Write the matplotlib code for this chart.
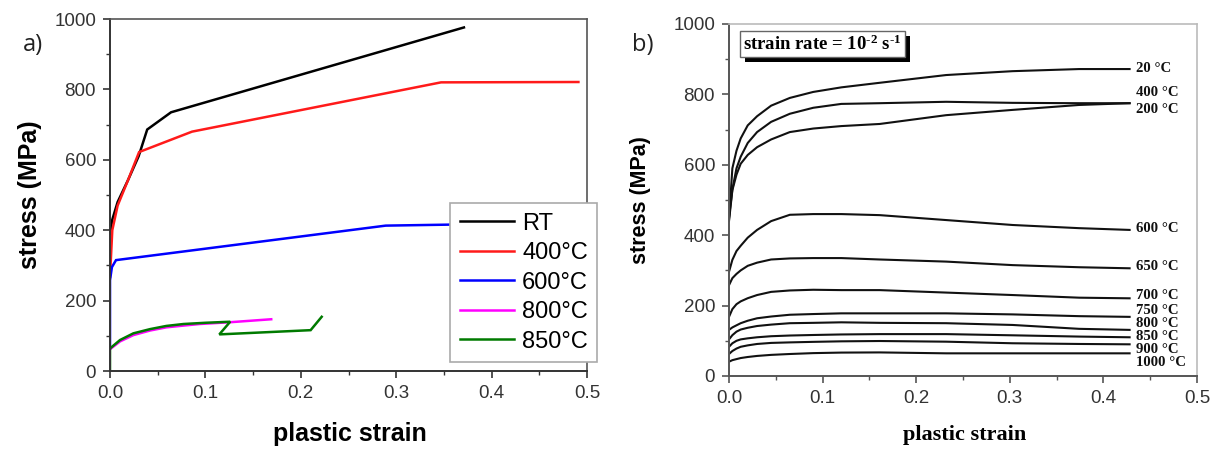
import matplotlib
matplotlib.use("Agg")
import matplotlib.pyplot as plt
from matplotlib import patheffects
from matplotlib.ticker import MultipleLocator

plt.rcParams['font.family'] = ['Liberation Sans', 'DejaVu Sans']
plt.rcParams['mathtext.fontset'] = 'custom'
plt.rcParams['mathtext.rm'] = 'Liberation Serif:bold'
plt.rcParams['mathtext.it'] = 'Liberation Serif:bold'
plt.rcParams['mathtext.bf'] = 'Liberation Serif:bold'

# ---------------- panel a) : flow curves used in the model ----------------
a_labels = ["RT", "400°C", "600°C", "800°C", "850°C"]
a_colors = ["#000000", "#ff1a1a", "#0000ff", "#ff00ff", "#007a00"]

rt_strain = [0.0, 0.0024, 0.008, 0.019, 0.03, 0.039, 0.064, 0.371]
rt_stress = [390, 430, 480, 543, 610, 686, 735, 976]

t400_strain = [0.0, 0.0024, 0.008, 0.019, 0.0305, 0.086, 0.347, 0.491]
t400_stress = [268, 400, 470, 543, 622, 680, 820, 821]

t600_strain = [0.0, 0.0, 0.002, 0.0063, 0.289, 0.36, 0.42]
t600_stress = [64, 258, 295, 315, 413, 416, 416]

t800_strain = [0.0, 0.0105, 0.0245, 0.042, 0.059, 0.077, 0.094, 0.126, 0.169]
t800_stress = [62, 84, 102, 115, 124, 129, 133.5, 138.6, 147]

t850_strain = [0.0, 0.0, 0.0105, 0.0245, 0.042, 0.059, 0.077, 0.1, 0.126,
               0.1146, 0.2103, 0.2219]
t850_stress = [0, 64, 88, 107, 119, 128, 133.5, 137, 140, 104, 116, 154]

a_strains = [rt_strain, t400_strain, t600_strain, t800_strain, t850_strain]
a_stresses = [rt_stress, t400_stress, t600_stress, t800_stress, t850_stress]

# ---------------- panel b) : measured curves at 10^-2 s^-1 ----------------
b_labels = ["20 °C", "400 °C", "200 °C", "600 °C", "650 °C", "700 °C",
            "750 °C", "800 °C", "850 °C", "900 °C", "1000 °C"]
b_label_y = [875, 804, 758, 420, 311, 230, 186, 148, 112, 75, 37]

b_strain = [0.0, 0.0036, 0.008, 0.0125, 0.02, 0.03, 0.045, 0.065, 0.09,
            0.12, 0.161, 0.232, 0.303, 0.374, 0.428]
b_stress = {
    "20 °C":   [445, 590, 640, 675, 712, 738, 768, 790, 807, 820, 833, 855, 866, 872, 872],
    "400 °C":  [450, 530, 590, 623, 662, 693, 722, 745, 762, 773, 775, 779, 776, 775, 775],
    "200 °C":  [440, 528, 572, 603, 628, 650, 672, 693, 703, 710, 716, 741, 756, 770, 775],
    "600 °C":  [296, 330, 355, 370, 393, 415, 440, 458, 460, 460, 457, 443, 429, 420, 415],
    "650 °C":  [258, 278, 290, 300, 313, 322, 331, 334, 335, 335, 331, 325, 315, 309, 306],
    "700 °C":  [168, 190, 204, 212, 221, 230, 239, 243, 245, 244, 244, 237, 230, 222.5, 220.7],
    "750 °C":  [131, 138, 144, 150, 157, 164, 169, 174, 176, 178, 178, 178, 175, 170, 168],
    "800 °C":  [104, 116, 126, 132, 137, 142, 146, 150, 151, 152.5, 151, 150, 145, 134, 131],
    "850 °C":  [83, 93, 100, 104, 107, 110, 113, 115, 116.5, 118, 119, 119, 115.6, 112, 110],
    "900 °C":  [62.5, 71, 78, 83, 87, 91, 94, 95.5, 97, 98.5, 99.4, 97.5, 93, 91, 90],
    "1000 °C": [40.6, 45, 48, 51, 54, 57, 60, 62.5, 65, 66.5, 67, 64.4, 64.4, 64.4, 64.4],
}

x_ticks = [0.0, 0.1, 0.2, 0.3, 0.4, 0.5]
x_ticklabels = ["0.0", "0.1", "0.2", "0.3", "0.4", "0.5"]
y_ticks = [0, 200, 400, 600, 800, 1000]

fig = plt.figure(figsize=(12.15, 4.5), dpi=100)
ax1 = fig.add_axes([110 / 1215, 1 - 371 / 450, 477 / 1215, 352 / 450])
ax2 = fig.add_axes([729 / 1215, 1 - 376 / 450, 468 / 1215, 352 / 450])

tick_color = "#333333"


def style_axes(ax, spine_dark, spine_light):
    ax.set_xlim(0, 0.5)
    ax.set_ylim(0, 1000)
    ax.set_xticks(x_ticks)
    ax.set_xticklabels(x_ticklabels)
    ax.set_yticks(y_ticks)
    ax.xaxis.set_minor_locator(MultipleLocator(0.05))
    ax.yaxis.set_minor_locator(MultipleLocator(100))
    ax.tick_params(which="major", direction="out", length=5, width=1.2,
                   color=spine_dark, labelsize=13.5, labelcolor=tick_color, pad=5)
    ax.tick_params(which="minor", direction="out", length=3, width=1.0,
                   color=spine_dark)
    for s in ("left", "bottom"):
        ax.spines[s].set_color(spine_dark)
        ax.spines[s].set_linewidth(1.4)
    for s in ("top", "right"):
        ax.spines[s].set_color(spine_light)
        ax.spines[s].set_linewidth(1.2)


# panel a
style_axes(ax1, "#333333", "#555555")
for xs, ys, lab, col in zip(a_strains, a_stresses, a_labels, a_colors):
    ax1.plot(xs, ys, color=col, lw=1.8, label=lab, solid_joinstyle="miter")
ax1.set_xlabel("plastic strain", fontsize=18, fontweight="bold")
ax1.set_ylabel("stress (MPa)", fontsize=18, fontweight="bold")
ax1.xaxis.set_label_coords(0.503, -0.145)
ax1.yaxis.set_label_coords(-0.143, 0.5)
leg = ax1.legend(loc="upper left", bbox_to_anchor=(0.713, 0.477), fontsize=17,
                 fancybox=False, framealpha=1, edgecolor="#aaaaaa",
                 handlelength=2.3, labelspacing=0.32, borderpad=0.4,
                 handletextpad=0.35, borderaxespad=0)
leg.get_frame().set_linewidth(1.2)
fig.text(33 / 1215, 1 - 45 / 450, "a)", fontsize=17, color="#222222",
         ha="center", va="center", family=["Open Sans", "DejaVu Sans"])

# panel b
style_axes(ax2, "#555555", "#bbbbbb")
for lab in b_labels:
    ax2.plot(b_strain, b_stress[lab], color="#111111", lw=1.5)
for lab, ly in zip(b_labels, b_label_y):
    ax2.text(0.435, ly, lab, fontsize=10.6, fontweight="bold",
             family=["Liberation Serif", "DejaVu Serif"], ha="left",
             va="center", clip_on=False, color="#111111")
ax2.set_xlabel("plastic strain", fontsize=16, fontweight="bold",
               family=["Liberation Serif", "DejaVu Serif"])
ax2.set_ylabel("stress (MPa)", fontsize=15.5, fontweight="bold")
ax2.xaxis.set_label_coords(0.504, -0.14)
ax2.yaxis.set_label_coords(-0.167, 0.5)

rate = ax2.text(0.03, 0.943, r"strain rate = 10$^{\text{-}2}$ s$^{\text{-}1}$",
                transform=ax2.transAxes, fontsize=13.5, fontweight="bold",
                family=["Liberation Serif", "DejaVu Serif"], ha="left",
                va="center",
                bbox=dict(boxstyle="square,pad=0.18", fc="white",
                          ec="#666666", lw=1.0))
rate.get_bbox_patch().set_path_effects([
    patheffects.SimplePatchShadow(offset=(3.5, -3.5), shadow_rgbFace="black",
                                  alpha=1.0),
    patheffects.Normal(),
])
fig.text(643 / 1215, 1 - 45 / 450, "b)", fontsize=17, color="#222222",
         ha="center", va="center", family=["Open Sans", "DejaVu Sans"])

fig.savefig("out.png", dpi=100)
